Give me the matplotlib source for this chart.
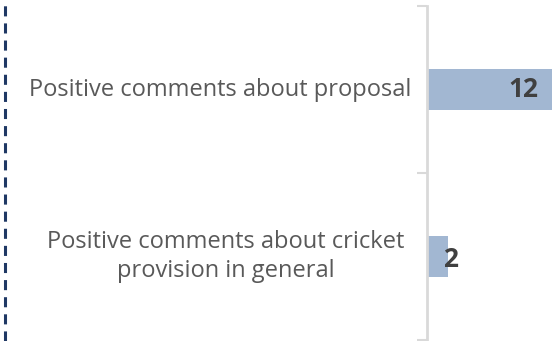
import matplotlib
matplotlib.use("Agg")
import matplotlib.pyplot as plt
from matplotlib.lines import Line2D

# data
categories = ["Positive comments about proposal",
              "Positive comments about cricket\nprovision in general"]
values = [12, 2]

plt.rcParams["font.family"] = ["Open Sans", "DejaVu Sans"]

fig = plt.figure(figsize=(5.53, 3.41), dpi=100)
ax = fig.add_axes([427 / 553, 1 / 341, 1 - 427 / 553, 334 / 341])

pos = list(range(len(values)))
ax.barh(pos, values, height=0.245, color="#a2b7d2")

ax.set_xlim(0, 12.1)
ax.set_ylim(len(values) - 0.5, -0.5)

# value labels
for p, v in zip(pos, values):
    if v > 4:
        ax.text(v - 1.3, p, str(v), ha="right", va="center",
                fontsize=19, fontweight="bold", color="#404040")
    else:
        ax.text(v - 0.45, p + 0.02, str(v), ha="left", va="center",
                fontsize=19, fontweight="bold", color="#404040")

# category labels (offset from axis line in points)
label_offsets = [-11, -16.5]
for p, c, off in zip(pos, categories, label_offsets):
    ax.annotate(c, xy=(0, p), xycoords=("axes fraction", "data"),
                xytext=(off, 0), textcoords="offset points",
                ha="right", va="center", ma="center",
                fontsize=17, color="#595959", linespacing=1.25)

ax.set_yticks([-0.5, 0.5, 1.5])
ax.set_yticklabels([])
ax.tick_params(axis="y", length=7, width=1.5, color="#d9d9d9")
ax.set_xticks([])

for s in ["top", "right", "bottom"]:
    ax.spines[s].set_visible(False)
ax.spines["left"].set_color("#d9d9d9")
ax.spines["left"].set_linewidth(2)

# dashed border on the left
fig.add_artist(Line2D([4.5 / 553, 4.5 / 553], [0, 1], color="#1f3864",
                      linewidth=2.2, linestyle=(0, (3.3, 2.3))))

plt.savefig("out.png", dpi=100)
